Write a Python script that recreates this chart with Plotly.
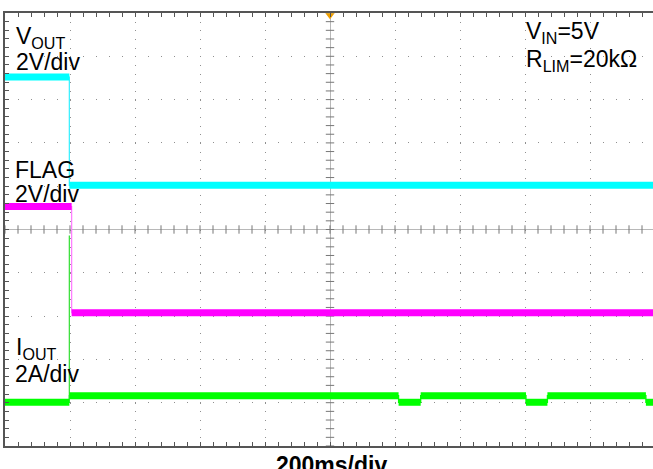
import plotly.graph_objects as go

# ---------------- data (time in ms, trigger at centre) ----------------
vout_t = [-1000, -802, 1000]          # level-change instants
vout_v = [5.0, 0.0]                   # volts in each interval
flag_t = [-1000, -795, 1000]
flag_v = [4.9, 0.0]
iout_t = [-1000, -802, 211, 279, 603, 669, 972, 1000]
iout_a = [0.0, 0.3, 0.0, 0.3, 0.0, 0.3, 0.0]
spike_t = -802
spike_a = 7.7

# channel settings
VOUT_SCALE, VOUT_OFS = 2.0, 1.02     # V/div, ground position (div)
FLAG_SCALE, FLAG_OFS = 2.0, -1.92
IOUT_SCALE, IOUT_OFS = 2.0, -3.99    # A/div

W, H = 653, 469
ML, MR, MT, MB = 5, 0, 13, 23
DIV_PX = 65.0
X_LEFT = -1000
X_RIGHT = X_LEFT + (W - ML - MR) / DIV_PX * 200

CYAN, MAG, GRN = "#00ffff", "#ff00ff", "#00ff00"


def bands(t, lv, ofs, sc):
    xs, ys = [], []
    for i, v in enumerate(lv):
        y = ofs + v / sc
        xs += [t[i], t[i + 1], None]
        ys += [y, y, None]
    return xs, ys


def steps(t, lv, ofs, sc):
    xs, ys = [], []
    for i, v in enumerate(lv):
        y = ofs + v / sc
        xs += [t[i], t[i + 1]]
        ys += [y, y]
    return xs, ys


fig = go.Figure()

# centre cross tick marks
cx = [X_LEFT + 40 * k for k in range(0, 51)]
fig.add_trace(go.Scatter(x=cx, y=[0] * len(cx), mode="markers",
                         marker=dict(symbol="line-ns", size=6, line=dict(width=1, color="#777")),
                         hoverinfo="skip", showlegend=False))
cy = [-5 + 0.2 * k for k in range(0, 51)]
fig.add_trace(go.Scatter(x=[0] * len(cy), y=cy, mode="markers",
                         marker=dict(symbol="line-ew", size=6, line=dict(width=1, color="#777")),
                         hoverinfo="skip", showlegend=False))

# thin step outlines (edges)
for t, lv, ofs, sc, col in [(vout_t, vout_v, VOUT_OFS, VOUT_SCALE, "#40f0ff"),
                            (flag_t, flag_v, FLAG_OFS, FLAG_SCALE, "#ff80ff"),
                            (iout_t, iout_a, IOUT_OFS, IOUT_SCALE, GRN)]:
    xs, ys = steps(t, lv, ofs, sc)
    fig.add_trace(go.Scatter(x=xs, y=ys, mode="lines", line=dict(color=col, width=1.3),
                             hoverinfo="skip", showlegend=False))

# current spike
fig.add_trace(go.Scatter(x=[spike_t, spike_t],
                         y=[IOUT_OFS, IOUT_OFS + spike_a / IOUT_SCALE],
                         mode="lines", line=dict(color="#40e040", width=1.3),
                         hoverinfo="skip", showlegend=False))

# thick noisy bands
for t, lv, ofs, sc, col in [(vout_t, vout_v, VOUT_OFS, VOUT_SCALE, CYAN),
                            (flag_t, flag_v, FLAG_OFS, FLAG_SCALE, MAG),
                            (iout_t, iout_a, IOUT_OFS, IOUT_SCALE, GRN)]:
    xs, ys = bands(t, lv, ofs, sc)
    fig.add_trace(go.Scatter(x=xs, y=ys, mode="lines", line=dict(color=col, width=7),
                             hoverinfo="skip", showlegend=False))

# trigger marker
fig.add_trace(go.Scatter(x=[0], y=[4.95], mode="markers",
                         marker=dict(symbol="triangle-down", size=8, color="#f0a000"),
                         cliponaxis=False, hoverinfo="skip", showlegend=False))

FONT = "Arial, Liberation Sans, sans-serif"
FS = 23


def px2paper(px, py):
    return (px - ML) / (W - ML - MR), (H - MB - py) / (H - MT - MB)


labels = [
    ("V<sub>OUT</sub>", 14, 37, "left", False),
    ("2V/div", 14, 62, "left", False),
    ("FLAG", 13, 170, "left", False),
    ("2V/div", 13, 194, "left", False),
    ("I<sub>OUT</sub>", 14, 348.5, "left", False),
    ("2A/div", 13, 373.5, "left", False),
    ("V<sub>IN</sub>=5V", 524, 32, "left", False),
    ("R<sub>LIM</sub>=20kΩ", 524, 61, "left", False),
    ("200ms/div", 331, 465, "center", True),
]
for txt, px, py, xa, bold in labels:
    xp, yp = px2paper(px, py)
    fig.add_annotation(x=xp, y=yp, xref="paper", yref="paper", text=("<b>%s</b>" % txt) if bold else txt,
                       showarrow=False, xanchor=xa, yanchor="middle",
                       font=dict(family=FONT, size=FS, color="black"))

fig.update_layout(
    width=W, height=H,
    margin=dict(l=ML, r=MR, t=MT, b=MB, pad=0),
    paper_bgcolor="white", plot_bgcolor="white",
    xaxis=dict(range=[X_LEFT, X_RIGHT], tick0=X_LEFT, dtick=200,
               showgrid=True, gridcolor="#909090", gridwidth=1, griddash="1px,7.66px",
               zeroline=True, zerolinecolor="#b8b8b8", zerolinewidth=1,
               showline=True, linecolor="#555", linewidth=1.5, mirror="allticks",
               ticks="inside", ticklen=4, tickcolor="#555",
               minor=dict(dtick=40, tick0=X_LEFT, ticks="inside", ticklen=4, tickcolor="#555", showgrid=False),
               showticklabels=False, fixedrange=True),
    yaxis=dict(range=[-5, 5], tick0=-5, dtick=1,
               showgrid=True, gridcolor="#909090", gridwidth=1, griddash="1px,12px",
               zeroline=True, zerolinecolor="#b8b8b8", zerolinewidth=1,
               showline=True, linecolor="#555", linewidth=1.5, mirror=False,
               ticks="inside", ticklen=4, tickcolor="#555",
               minor=dict(dtick=0.2, tick0=-5, ticks="inside", ticklen=4, tickcolor="#555", showgrid=False),
               showticklabels=False, fixedrange=True),
    showlegend=False,
)

fig.write_html("out.html", config={"displayModeBar": False},
               post_script="document.body.style.margin='0';document.body.style.overflow='hidden';")
